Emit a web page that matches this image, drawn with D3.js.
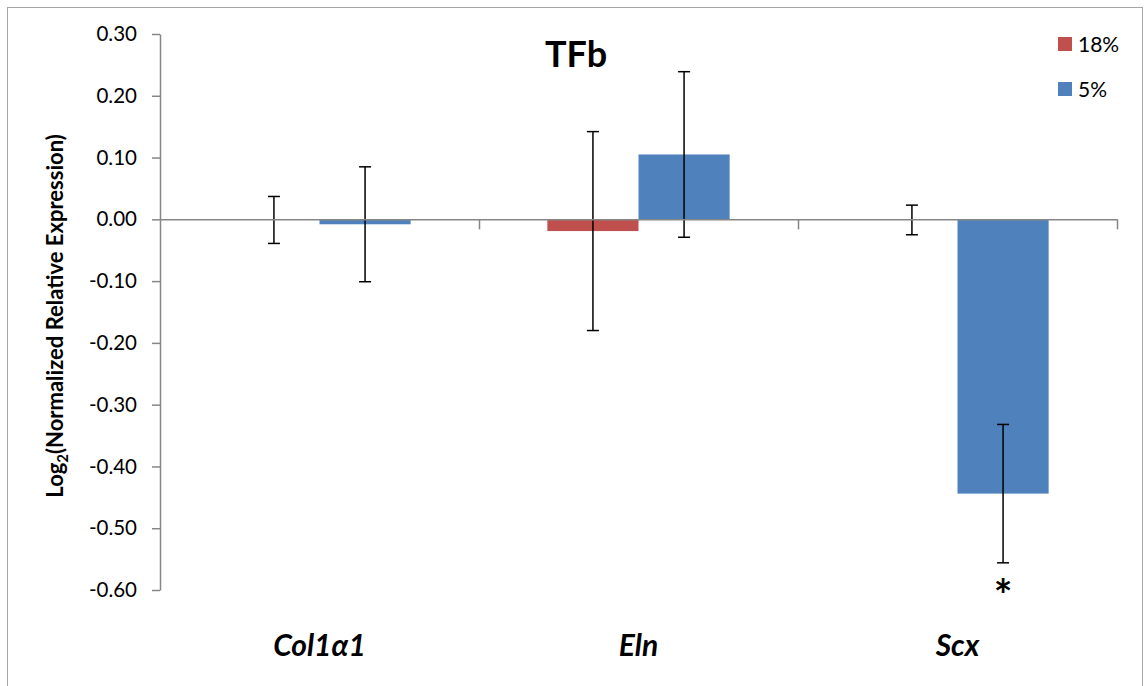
<!DOCTYPE html>
<html>
<head>
<meta charset="utf-8">
<script src="https://cdn.jsdelivr.net/npm/d3@7"></script>
<style>
  body { margin: 0; background: #fff; }
  #chart svg { display: block; }
</style>
</head>
<body>
<div id="chart"></div>
<script>
const categories = ['Col1α1', 'Eln', 'Scx'];
const seriesNames = ['18%', '5%'];
const values18 = [-0.001, -0.019, -0.001];
const values5 = [-0.008, 0.105, -0.444];
const errors18 = [0.038, 0.161, 0.024];
const errors5 = [0.093, 0.134, 0.112];
const marks5 = ['', '', '*'];
const yTicks = [0.3, 0.2, 0.1, 0, -0.1, -0.2, -0.3, -0.4, -0.5, -0.6];
const colors = ['#C0504D', '#4F81BD'];

const width = 1144;
const height = 686;
const font = 'Lato, "Open Sans", sans-serif';

const rows = categories.map((c, i) => ({
  cat: c,
  bars: [
    { s: seriesNames[0], v: values18[i], e: errors18[i], mark: '' },
    { s: seriesNames[1], v: values5[i], e: errors5[i], mark: marks5[i] },
  ],
}));

const svg = d3
  .select('#chart')
  .append('svg')
  .attr('width', width)
  .attr('height', height);

// outer chart border
svg
  .append('rect')
  .attr('x', 7.5)
  .attr('y', 7.5)
  .attr('width', 1135)
  .attr('height', 700)
  .attr('fill', 'none')
  .attr('stroke', '#a6a6a6')
  .attr('stroke-width', 1);

const x0 = d3.scaleBand().domain(categories).range([160, 1117]);
const bw = x0.bandwidth();
const x1 = d3
  .scaleBand()
  .domain(seriesNames)
  .range([bw * (0.75 / 3.5), bw * (2.75 / 3.5)]);

const y = d3.scaleLinear().domain([-0.6, 0.3]).range([590, 34]);

// y axis
const yAxis = svg
  .append('g')
  .attr('transform', 'translate(160,0)')
  .call(
    d3
      .axisLeft(y)
      .tickValues(yTicks)
      .tickSize(8)
      .tickSizeOuter(0)
      .tickFormat((d) => d.toFixed(2)),
  );
yAxis.selectAll('path, line').attr('stroke', '#868686').attr('stroke-width', 1.5);
yAxis
  .selectAll('text')
  .attr('x', -23)
  .attr('fill', '#000')
  .style('font-family', font)
  .style('font-size', '20.5px');

// bars
const groups = svg
  .append('g')
  .selectAll('g')
  .data(rows)
  .enter()
  .append('g')
  .attr('transform', (d) => `translate(${x0(d.cat)},0)`);

groups
  .selectAll('rect')
  .data((d) => d.bars)
  .enter()
  .append('rect')
  .attr('x', (d) => x1(d.s))
  .attr('width', x1.bandwidth())
  .attr('y', (d) => y(Math.max(0, d.v)))
  .attr('height', (d) => Math.abs(y(d.v) - y(0)))
  .attr('fill', (d, i) => colors[i]);

// x axis along zero
const xb = d3.scaleLinear().domain([0, 3]).range([160, 1117]);
const xAxis = svg
  .append('g')
  .attr('transform', `translate(0,${y(0)})`)
  .call(d3.axisBottom(xb).tickValues([1, 2, 3]).tickSize(10).tickSizeOuter(0).tickFormat(''));
xAxis.selectAll('path, line').attr('stroke', '#868686').attr('stroke-width', 1.5);

// error bars
const err = groups
  .selectAll('g.err')
  .data((d) => d.bars)
  .enter()
  .append('g')
  .attr('class', 'err')
  .attr('stroke', '#000')
  .attr('stroke-width', 1.5);

const cx = (d) => x1(d.s) + x1.bandwidth() / 2;

err
  .append('line')
  .attr('x1', cx)
  .attr('x2', cx)
  .attr('y1', (d) => y(d.v + d.e))
  .attr('y2', (d) => y(d.v - d.e));
err
  .append('line')
  .attr('x1', (d) => cx(d) - 6)
  .attr('x2', (d) => cx(d) + 6)
  .attr('y1', (d) => y(d.v + d.e))
  .attr('y2', (d) => y(d.v + d.e));
err
  .append('line')
  .attr('x1', (d) => cx(d) - 6)
  .attr('x2', (d) => cx(d) + 6)
  .attr('y1', (d) => y(d.v - d.e))
  .attr('y2', (d) => y(d.v - d.e));

// significance marks
groups
  .selectAll('text.sig')
  .data((d) => d.bars.filter((b) => b.mark))
  .enter()
  .append('text')
  .attr('class', 'sig')
  .attr('x', cx)
  .attr('y', (d) => y(d.v - d.e) + 48)
  .style('text-anchor', 'middle')
  .style('font-family', font)
  .style('font-weight', 'bold')
  .style('font-size', '44px')
  .text((d) => d.mark);

// category labels
svg
  .append('g')
  .selectAll('text')
  .data(categories)
  .enter()
  .append('text')
  .attr('x', (d) => x0(d) + bw / 2)
  .attr('y', 656)
  .style('text-anchor', 'middle')
  .style('font-family', font)
  .style('font-weight', 'bold')
  .style('font-style', 'italic')
  .style('font-size', '30px')
  .text((d) => d);

// title
svg
  .append('text')
  .attr('x', 576)
  .attr('y', 67)
  .style('text-anchor', 'middle')
  .style('font-family', font)
  .style('font-weight', 'bold')
  .style('font-size', '36px')
  .text('TFb');

// y axis title
const yTitle = svg
  .append('text')
  .attr('transform', 'translate(63,316) rotate(-90)')
  .style('text-anchor', 'middle')
  .style('font-family', font)
  .style('font-weight', 'bold')
  .style('font-size', '22px');
yTitle.append('tspan').text('Log');
yTitle.append('tspan').attr('dy', 5).style('font-size', '15px').text('2');
yTitle.append('tspan').attr('dy', -5).text('(Normalized Relative Expression)');

// legend
const legend = svg
  .append('g')
  .selectAll('g')
  .data(seriesNames)
  .enter()
  .append('g')
  .attr('transform', (d, i) => `translate(1058,${37 + i * 45})`);
legend
  .append('rect')
  .attr('width', 14)
  .attr('height', 14)
  .attr('fill', (d, i) => colors[i]);
legend
  .append('text')
  .attr('x', 20)
  .attr('y', 15)
  .style('font-family', font)
  .style('font-size', '21px')
  .text((d) => d);
</script>
</body>
</html>
